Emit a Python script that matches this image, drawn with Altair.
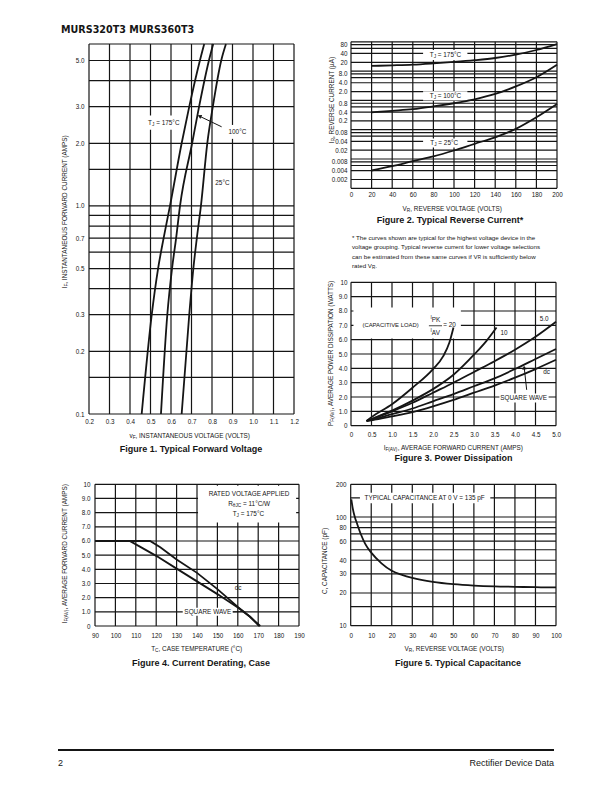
import math
import altair as alt
import pandas as pd

W_TOTAL, H_TOTAL = 596, 776
FONT = "Liberation Sans"
INK = "#151515"
GW = 1.2          # grid line width
CW = 1.8          # curve width
TICK_FS = 6.3
LBL_FS = 6.4
CAP_FS = 9.0

# ---------------- data ----------------
# Figure 1: forward voltage (V) vs forward current (A)
F1_I = [0.1, 0.3, 0.5, 0.7, 1.0, 2.0, 3.0, 5.0, 6.0]
F1_V175 = [0.457, 0.506, 0.537, 0.564, 0.595, 0.652, 0.689, 0.741, 0.762]
F1_V100 = [0.551, 0.582, 0.605, 0.625, 0.644, 0.703, 0.737, 0.785, 0.806]
F1_V25 = [0.652, 0.689, 0.709, 0.726, 0.746, 0.777, 0.804, 0.845, 0.868]
F1_XGRID = [0.2, 0.3, 0.4, 0.5, 0.6, 0.7, 0.8, 0.9, 1.0, 1.1, 1.2]
F1_XLAB = ["0.2", "0.3", "0.4", "0.5", "0.6", "0.7", "0.8", "0.9", "1.0", "1.1", "1.2"]
F1_YGRID = [0.1, 0.15, 0.2, 0.3, 0.4, 0.5, 0.6, 0.7, 0.8, 0.9, 1.0, 1.5, 2.0, 3.0, 4.0, 5.0, 6.0]
F1_YTICK = [0.1, 0.2, 0.3, 0.5, 0.7, 1.0, 2.0, 3.0, 5.0]
F1_YLAB = ["0.1", "0.2", "0.3", "0.5", "0.7", "1.0", "2.0", "3.0", "5.0"]

# Figure 2: reverse voltage vs reverse current (uA)
F2_V = [20, 40, 60, 80, 100, 120, 140, 160, 180, 200]
F2_I175 = [15.0, 15.7, 16.6, 18.3, 20.5, 23.5, 28.0, 36.5, 52.5, 84.0]
F2_I100 = [0.39, 0.44, 0.50, 0.62, 0.80, 1.09, 1.66, 3.0, 6.2, 16.6]
F2_I25 = [0.00405, 0.0057, 0.0084, 0.0122, 0.0195, 0.033, 0.055, 0.107, 0.267, 0.76]
F2_XGRID = [0, 20, 40, 60, 80, 100, 120, 140, 160, 180, 200]
F2_XLAB = ["0", "20", "40", "60", "80", "100", "120", "140", "160", "180", "200"]
F2_YGRID = [0.001, 0.002, 0.004, 0.006, 0.008, 0.01, 0.02, 0.04, 0.06, 0.08, 0.1, 0.2, 0.4,
            0.6, 0.8, 1, 2, 4, 6, 8, 10, 20, 40, 60, 80, 100]
F2_YTICK = [80, 40, 20, 8, 4, 2, 0.8, 0.4, 0.2, 0.08, 0.04, 0.02, 0.008, 0.004, 0.002]
F2_YLAB = ["80", "40", "20", "8.0", "4.0", "2.0", "0.8", "0.4", "0.2", "0.08", "0.04", "0.02",
           "0.008", "0.004", "0.002"]

# Figure 3: average forward current vs power dissipation
F3_I20 = [0.38, 0.5, 1.0, 1.5, 2.0, 2.25, 2.4, 2.5]
F3_P20 = [0.33, 0.6, 1.5, 2.65, 3.95, 4.85, 5.8, 6.85]
F3_I10 = [0.38, 0.5, 1.0, 1.5, 2.0, 2.5, 3.0, 3.3, 3.55]
F3_P10 = [0.33, 0.47, 1.05, 1.75, 2.55, 3.55, 4.95, 5.9, 6.85]
F3_IX = [0.38, 0.5, 1.0, 1.5, 2.0, 2.5, 3.0, 3.5, 4.0, 4.5, 5.0]
F3_P5 = [0.33, 0.45, 1.0, 1.6, 2.3, 3.0, 3.75, 4.5, 5.3, 6.2, 7.25]
F3_PSQ = [0.33, 0.40, 0.8, 1.2, 1.7, 2.2, 2.75, 3.3, 3.95, 4.65, 5.35]
F3_PDC = [0.33, 0.38, 0.65, 0.95, 1.35, 1.8, 2.3, 2.8, 3.35, 3.95, 4.6]
F3_XGRID = [0, 0.5, 1.0, 1.5, 2.0, 2.5, 3.0, 3.5, 4.0, 4.5, 5.0]
F3_XLAB = ["0", "0.5", "1.0", "1.5", "2.0", "2.5", "3.0", "3.5", "4.0", "4.5", "5.0"]
F3_YGRID = [0, 1, 2, 3, 4, 5, 6, 7, 8, 9, 10]
F3_YLAB = ["0", "1.0", "2.0", "3.0", "4.0", "5.0", "6.0", "7.0", "8.0", "9.0", "10"]

# Figure 4: case temperature vs average forward current
F4_T_DC = [90, 117, 122, 130, 140, 150, 160, 166, 171]
F4_I_DC = [6.0, 6.0, 5.55, 4.7, 3.75, 2.6, 1.35, 0.65, 0.0]
F4_T_SQ = [90, 107, 112, 120, 130, 140, 150, 160, 166, 170.5]
F4_I_SQ = [6.0, 6.0, 5.6, 4.95, 4.05, 3.15, 2.25, 1.3, 0.65, 0.0]
F4_XGRID = [90, 100, 110, 120, 130, 140, 150, 160, 170, 180, 190]
F4_XLAB = ["90", "100", "110", "120", "130", "140", "150", "160", "170", "180", "190"]
F4_YGRID = [0, 1, 2, 3, 4, 5, 6, 7, 8, 9, 10]
F4_YLAB = ["0", "1.0", "2.0", "3.0", "4.0", "5.0", "6.0", "7.0", "8.0", "9.0", "10"]

# Figure 5: reverse voltage vs capacitance (pF)
F5_V = [0.3, 1, 2, 3, 5, 7, 10, 15, 20, 25, 30, 40, 50, 60, 70, 80, 90, 100]
F5_C = [145, 120, 100, 88, 69, 57, 47, 37.5, 32, 29.3, 27.5, 25.3, 24.1, 23.4, 23.0, 22.8, 22.6, 22.5]
F5_XGRID = [0, 10, 20, 30, 40, 50, 60, 70, 80, 90, 100]
F5_XLAB = ["0", "10", "20", "30", "40", "50", "60", "70", "80", "90", "100"]
F5_YGRID = [10, 15, 20, 30, 40, 50, 60, 70, 80, 90, 100, 150, 200]
F5_YTICK = [10, 20, 30, 40, 60, 80, 100, 200]
F5_YLAB = ["10", "20", "30", "40", "60", "80", "100", "200"]

FOOTNOTE = [
    [("* The curves shown are typical for the highest voltage device in the", "n")],
    [("voltage grouping. Typical reverse current for lower voltage selections", "n")],
    [("can be estimated from these same curves if V", "n"), ("R", "sub"), (" is sufficiently below", "n")],
    [("rated V", "n"), ("R", "sub"), (".", "n")],
]

# ---------------- helpers ----------------
AW = {' ': .278, ',': .278, '.': .278, '(': .333, ')': .333, '=': .584, '°': .4, '/': .278,
      '*': .389, '-': .333, 'θ': .556, 'µ': .556,
      'A': .667, 'B': .667, 'C': .722, 'D': .722, 'E': .667, 'F': .611, 'G': .778, 'H': .722,
      'I': .278, 'J': .5, 'K': .667, 'L': .556, 'M': .833, 'N': .722, 'O': .778, 'P': .667,
      'Q': .778, 'R': .722, 'S': .667, 'T': .611, 'U': .722, 'V': .667, 'W': .944, 'X': .667,
      'Y': .667, 'Z': .611, 'a': .556, 'b': .556, 'c': .5, 'd': .556, 'e': .556, 'f': .278,
      'g': .556, 'h': .556, 'i': .222, 'j': .222, 'k': .5, 'l': .222, 'm': .833, 'n': .556,
      'o': .556, 'p': .556, 'q': .556, 'r': .333, 's': .5, 't': .278, 'u': .556, 'v': .5,
      'w': .722, 'x': .5, 'y': .5, 'z': .5}


def tw(s, size):
    return sum(AW.get(c, 0.556) for c in s) * size


def P(v):
    return v - 8.0


def label_expr(values, labels):
    e = "''"
    for v, l in reversed(list(zip(values, labels))):
        e = f"datum.value == {v!r} ? '{l}' : ({e})"
    return e


def make_fig(xd, yd, xr, yr, ylog=False):
    xs = alt.Scale(type='linear', domain=xd, range=[P(xr[0]), P(xr[1])], nice=False, zero=False)
    if ylog:
        ys = alt.Scale(type='log', domain=yd, range=[P(yr[0]), P(yr[1])], nice=False)
    else:
        ys = alt.Scale(type='linear', domain=yd, range=[P(yr[0]), P(yr[1])], nice=False, zero=False)
    return dict(xs=xs, ys=ys, xd=xd, yd=yd, xr=xr, yr=yr, ylog=ylog)


def to_px(f, xv, yv):
    x0, x1 = f['xr']
    d0, d1 = f['xd']
    px = x0 + (xv - d0) / (d1 - d0) * (x1 - x0)
    y0, y1 = f['yr']
    e0, e1 = f['yd']
    if f['ylog']:
        t = (math.log10(yv) - math.log10(e0)) / (math.log10(e1) - math.log10(e0))
    else:
        t = (yv - e0) / (e1 - e0)
    return px, y0 + t * (y1 - y0)


def axis_common(values, labels, pad):
    return dict(values=values, labelExpr=label_expr(values, labels), ticks=False, tickSize=0,
                domain=False, grid=False, title=None, labelFont=FONT, labelFontSize=TICK_FS,
                labelColor=INK, labelPadding=pad, labelOverlap=False, labelFlush=False,
                labelBound=False)


def grid(f, xgrid, ygrid, xticks, xlabs, yticks, ylabs, xpad, ypad):
    xa = alt.Axis(orient='bottom', offset=P(f['yr'][0]) - H_TOTAL, labelAngle=0,
                  **axis_common(xticks, xlabs, xpad))
    ya = alt.Axis(orient='left', offset=-P(f['xr'][0]), **axis_common(yticks, ylabs, ypad))
    vdf = pd.DataFrame({'gx': xgrid, 'y0': [f['yd'][0]] * len(xgrid), 'y1': [f['yd'][1]] * len(xgrid)})
    hdf = pd.DataFrame({'gy': ygrid, 'x0': [f['xd'][0]] * len(ygrid), 'x1': [f['xd'][1]] * len(ygrid)})
    v = alt.Chart(vdf).mark_rule(color=INK, strokeWidth=GW).encode(
        x=alt.X('gx:Q', scale=f['xs'], axis=xa),
        y=alt.Y('y0:Q', scale=f['ys'], axis=None), y2=alt.Y2('y1'))
    h = alt.Chart(hdf).mark_rule(color=INK, strokeWidth=GW).encode(
        y=alt.Y('gy:Q', scale=f['ys'], axis=ya),
        x=alt.X('x0:Q', scale=f['xs'], axis=None), x2=alt.X2('x1'))
    return [v, h]


def curve(f, xv, yv, interp='monotone'):
    df = pd.DataFrame({'cx': xv, 'cy': yv})
    return alt.Chart(df).mark_line(color=INK, strokeWidth=CW, interpolate=interp).encode(
        x=alt.X('cx:Q', scale=f['xs'], axis=None), y=alt.Y('cy:Q', scale=f['ys'], axis=None))


def box(f, x0, x1, y0, y1):
    df = pd.DataFrame({'bx': [x0], 'bx2': [x1], 'by': [y0], 'by2': [y1]})
    return alt.Chart(df).mark_rect(color='white', strokeWidth=0).encode(
        x=alt.X('bx:Q', scale=f['xs'], axis=None), x2=alt.X2('bx2'),
        y=alt.Y('by:Q', scale=f['ys'], axis=None), y2=alt.Y2('by2'))


def seg(f, x0, y0, x1, y1, sw=1.0):
    df = pd.DataFrame({'sx': [x0], 'sx2': [x1], 'sy': [y0], 'sy2': [y1]})
    return alt.Chart(df).mark_rule(color=INK, strokeWidth=sw).encode(
        x=alt.X('sx:Q', scale=f['xs'], axis=None), x2=alt.X2('sx2'),
        y=alt.Y('sy:Q', scale=f['ys'], axis=None), y2=alt.Y2('sy2'))


def arrow(f, x0, y0, x1, y1):
    p0 = to_px(f, x0, y0)
    p1 = to_px(f, x1, y1)
    ang = math.degrees(math.atan2(p1[0] - p0[0], -(p1[1] - p0[1]))) % 360
    df = pd.DataFrame({'hx': [x1], 'hy': [y1]})
    head = alt.Chart(df).mark_point(shape='triangle-up', filled=True, color=INK, opacity=1,
                                    size=20, angle=ang).encode(
        x=alt.X('hx:Q', scale=f['xs'], axis=None), y=alt.Y('hy:Q', scale=f['ys'], axis=None))
    return [seg(f, x0, y0, x1, y1, 1.0), head]


def at(f, xv, yv):
    df = pd.DataFrame({'tx': [xv], 'ty': [yv]})
    return df, dict(x=alt.X('tx:Q', scale=f['xs'], axis=None), y=alt.Y('ty:Q', scale=f['ys'], axis=None))


def at_px(px, py):
    return pd.DataFrame({'k': [0]}), dict(x=alt.value(P(px)), y=alt.value(P(py)))


def rich(parts, size, pos, align='center', angle=0, weight='normal', font=FONT):
    data, enc = pos
    segs = []
    for t, m in parts:
        s = size if m == 'n' else size * 0.74
        dy = 0.0 if m == 'n' else (0.32 * size if m == 'sub' else -0.34 * size)
        segs.append((t, s, dy, tw(t, s)))
    total = sum(w for _, _, _, w in segs)
    off = {'center': -total / 2, 'left': 0.0, 'right': -total}[align]
    out = []
    for t, s, dy, w in segs:
        lead = len(t) - len(t.lstrip(' '))
        body = t.strip(' ')
        if body:
            out.append(alt.Chart(data).mark_text(
                text=body, align='left', baseline='middle', dx=off + tw(' ' * lead, s), dy=dy,
                fontSize=s, angle=angle, font=font, fontWeight=weight, color=INK).encode(**enc))
        off += w
    return out


def plain(text, size, pos, align='center', weight='normal', font=FONT, angle=0):
    data, enc = pos
    return [alt.Chart(data).mark_text(text=text, align=align, baseline='middle', fontSize=size,
                                      font=font, fontWeight=weight, color=INK,
                                      angle=angle).encode(**enc)]


layers = []

# ---------------- Figure 1 ----------------
f1 = make_fig([0.2, 1.2], [0.1, 6.0], (89, 294), (414, 44), ylog=True)
layers += grid(f1, F1_XGRID, F1_YGRID, F1_XGRID, F1_XLAB, F1_YTICK, F1_YLAB, 4.3, 5)
layers += [box(f1, 0.47, 0.655, 2.32, 2.72), box(f1, 0.885, 0.965, 2.1, 2.45)]
layers += [curve(f1, F1_V175, F1_I), curve(f1, F1_V100, F1_I), curve(f1, F1_V25, F1_I)]
layers += rich([("T", "n"), ("J", "sub"), (" = 175°C", "n")], LBL_FS, at(f1, 0.565, 2.5))
layers += plain("100°C", LBL_FS, at(f1, 0.924, 2.27))
layers += plain("25°C", LBL_FS, at(f1, 0.851, 1.29))
layers += arrow(f1, 0.847, 2.4, 0.739, 2.7)
layers += rich([("v", "n"), ("F", "sub"), (", INSTANTANEOUS VOLTAGE (VOLTS)", "n")], LBL_FS, at_px(191, 436))
layers += rich([("I", "n"), ("F", "sub"), (", INSTANTANEOUS FORWARD CURRENT (AMPS)", "n")], LBL_FS,
               at_px(65, 211), angle=270)
layers += plain("Figure 1. Typical Forward Voltage", CAP_FS, at_px(191, 449), weight='bold')

# ---------------- Figure 2 ----------------
f2 = make_fig([0, 200], [0.001, 100], (351, 557), (188.3, 41.8), ylog=True)
layers += grid(f2, F2_XGRID, F2_YGRID, F2_XGRID, F2_XLAB, F2_YTICK, F2_YLAB, 3, 4)
layers += [box(f2, 70, 113, 24, 52), box(f2, 70, 113, 1.0, 2.05), box(f2, 70, 113, 0.0245, 0.05)]
layers += [curve(f2, F2_V, F2_I175), curve(f2, F2_V, F2_I100), curve(f2, F2_V, F2_I25)]
layers += rich([("T", "n"), ("J", "sub"), (" = 175°C", "n")], LBL_FS, at(f2, 91.7, 35.5))
layers += rich([("T", "n"), ("J", "sub"), (" = 100°C", "n")], LBL_FS, at(f2, 91.7, 1.41))
layers += rich([("T", "n"), ("J", "sub"), (" = 25°C", "n")], LBL_FS, at(f2, 90.5, 0.0352))
layers += rich([("V", "n"), ("R", "sub"), (", REVERSE VOLTAGE (VOLTS)", "n")], LBL_FS, at_px(453, 208.7))
layers += rich([("I", "n"), ("R", "sub"), (", REVERSE CURRENT (µA)", "n")], LBL_FS,
               at_px(332, 100), angle=270)
layers += plain("Figure 2. Typical Reverse Current*", CAP_FS, at_px(450, 219.5), weight='bold')

# footnote
for i, line in enumerate(FOOTNOTE):
    layers += rich(line, 6.2, at_px(352, [238, 247, 256.5, 266][i]), align='left')

# ---------------- Figure 3 ----------------
f3 = make_fig([0, 5], [0, 10], (351, 556), (425.7, 282.3))
layers += grid(f3, F3_XGRID, F3_YGRID, F3_XGRID, F3_XLAB, F3_YGRID, F3_YLAB, 5.5, 4)
layers += [box(f3, 0.06, 2.68, 6.08, 8.25), box(f3, 3.62, 4.82, 1.62, 2.25)]
layers += [curve(f3, F3_I20, F3_P20), curve(f3, F3_I10, F3_P10), curve(f3, F3_IX, F3_P5),
           curve(f3, F3_IX, F3_PSQ), curve(f3, F3_IX, F3_PDC)]
layers += plain("(CAPACITIVE  LOAD)", 5.9, at(f3, 0.28, 7.02), align='left')
layers += rich([("I", "sup"), ("PK", "n")], LBL_FS, at(f3, 2.06, 7.37))
layers += [seg(f3, 1.9, 6.97, 2.22, 6.97, 0.8)]
layers += rich([("I", "sup"), ("AV", "n")], LBL_FS, at(f3, 2.06, 6.44))
layers += plain("=  20", LBL_FS, at(f3, 2.25, 7.0), align='left')
layers += plain("10", LBL_FS, at(f3, 3.73, 6.46))
layers += plain("5.0", LBL_FS, at(f3, 4.71, 7.44))
layers += plain("dc", LBL_FS, at(f3, 4.77, 3.75))
layers += plain("SQUARE WAVE", LBL_FS, at(f3, 4.21, 1.93))
layers += arrow(f3, 4.285, 2.5, 4.225, 4.05)
layers += rich([("I", "n"), ("F(AV)", "sub"), (", AVERAGE FORWARD CURRENT (AMPS)", "n")], LBL_FS,
               at_px(454, 448))
layers += rich([("P", "n"), ("F(AV)", "sub"), (", AVERAGE POWER DISSIPATION (WATTS)", "n")], LBL_FS,
               at_px(331, 352), angle=270)
layers += plain("Figure 3. Power Dissipation", CAP_FS, at_px(453.5, 458), weight='bold')

# ---------------- Figure 4 ----------------
f4 = make_fig([90, 190], [0, 10], (95, 299), (626, 484.3))
layers += grid(f4, F4_XGRID, F4_YGRID, F4_XGRID, F4_XLAB, F4_YGRID, F4_YLAB, 6, 5)
layers += [box(f4, 140.5, 188.6, 7.3, 9.9), box(f4, 133, 157.5, 0.72, 1.28)]
layers += [curve(f4, F4_T_DC, F4_I_DC, 'linear'), curve(f4, F4_T_SQ, F4_I_SQ, 'linear')]
layers += plain("RATED VOLTAGE APPLIED", LBL_FS, at(f4, 165.5, 9.31))
layers += rich([("R", "n"), ("θJC", "sub"), (" = 11°C/W", "n")], LBL_FS, at(f4, 165.7, 8.61))
layers += rich([("T", "n"), ("J", "sub"), (" = 175°C", "n")], LBL_FS, at(f4, 165.2, 7.9))
layers += plain("dc", LBL_FS, at(f4, 160.1, 2.68))
layers += plain("SQUARE WAVE", LBL_FS, at(f4, 145.3, 0.99))
layers += [seg(f4, 157.6, 1.0, 163.2, 1.02, 0.9)]
layers += rich([("T", "n"), ("C", "sub"), (", CASE TEMPERATURE (°C)", "n")], LBL_FS, at_px(197, 649))
layers += rich([("I", "n"), ("F(AV)", "sub"), (", AVERAGE FORWARD CURRENT (AMPS)", "n")], LBL_FS,
               at_px(65, 553), angle=270)
layers += plain("Figure 4. Current Derating, Case", CAP_FS, at_px(201, 663), weight='bold')

# ---------------- Figure 5 ----------------
f5 = make_fig([0, 100], [10, 200], (350.7, 556), (625.7, 484.3), ylog=True)
layers += grid(f5, F5_XGRID, F5_YGRID, F5_XGRID, F5_XLAB, F5_YTICK, F5_YLAB, 7, 4.7)
layers += [box(f5, 4.5, 68, 134, 167)]
layers += [curve(f5, F5_V, F5_C)]
layers += plain("TYPICAL CAPACITANCE AT 0 V = 135 pF", LBL_FS, at(f5, 36, 150))
layers += rich([("V", "n"), ("R", "sub"), (", REVERSE VOLTAGE (VOLTS)", "n")], LBL_FS, at_px(455, 649))
layers += plain("C, CAPACITANCE  (pF)", LBL_FS, at_px(325, 561), angle=270)
layers += plain("Figure 5. Typical Capacitance", CAP_FS, at_px(458, 663), weight='bold')

# ---------------- page header / footer ----------------
layers += plain("MURS320T3 MURS360T3", 9.6, at_px(61, 29.5), align='left', weight='bold',
                font="DejaVu Sans")
layers += [alt.Chart(pd.DataFrame({'k': [0]})).mark_rule(color=INK, strokeWidth=2.2).encode(
    x=alt.value(P(58)), x2=alt.value(P(554)), y=alt.value(P(750)))]
layers += plain("2", 9, at_px(58, 763), align='left')
layers += plain("Rectifier Device Data", 9, at_px(554, 763), align='right')

chart = alt.layer(*layers).resolve_scale(x='independent', y='independent').resolve_axis(
    x='independent', y='independent').properties(
    width=W_TOTAL, height=H_TOTAL, padding=0,
    autosize=alt.AutoSizeParams(type='none'), background='white'
).configure_view(stroke=None)

chart.save("out.html", embed_options={"renderer": "svg", "actions": False})
